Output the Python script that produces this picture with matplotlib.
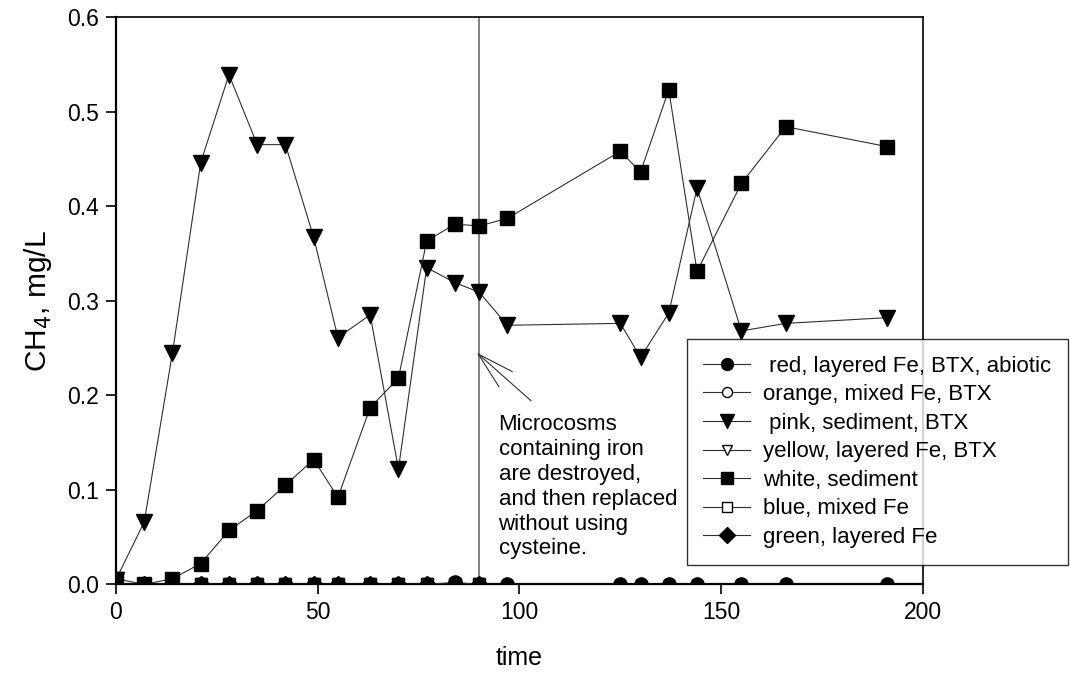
import matplotlib
matplotlib.use("Agg")
import matplotlib.pyplot as plt

plt.rcParams['font.family'] = ['Liberation Sans', 'DejaVu Sans']

# Sampling days
days_all = [0, 7, 14, 21, 28, 35, 42, 49, 55, 63, 70, 77, 84, 90, 97,
            125, 130, 137, 144, 155, 166, 191]
days_fe = [0, 7, 14, 21, 28, 35, 42, 49, 55, 63, 70, 77, 84, 90]

# CH4 concentrations, mg/L
red_layered_btx_abiotic = [0.0, 0.0, 0.0, 0.0, 0.0, 0.0, 0.0, 0.0, 0.0, 0.0, 0.0,
                           0.0, 0.002, 0.0, 0.0, 0.0, 0.0, 0.0, 0.0, 0.0, 0.0, 0.0]
orange_mixed_btx = [0.0] * len(days_fe)
pink_sediment_btx = [0.005, 0.066, 0.245, 0.446, 0.539, 0.465, 0.465, 0.367, 0.261,
                     0.285, 0.122, 0.335, 0.319, 0.309, 0.274,
                     0.276, 0.240, 0.287, 0.419, 0.268, 0.276, 0.282]
yellow_layered_btx = [0.0] * len(days_fe)
white_sediment = [0.006, 0.0, 0.006, 0.022, 0.057, 0.078, 0.105, 0.132, 0.092,
                  0.187, 0.218, 0.363, 0.381, 0.379, 0.387,
                  0.458, 0.436, 0.523, 0.331, 0.424, 0.484, 0.463]
blue_mixed = [0.0] * len(days_fe)
green_layered = [0.0] * len(days_fe)

event_day = 90
note = ("Microcosms\ncontaining iron\nare destroyed,\nand then replaced\n"
        "without using\ncysteine.")

fig = plt.figure(figsize=(10.70, 6.74), dpi=100)
ax = fig.add_axes([0.1084, 0.133, 0.7542, 0.8418])

line_kw = dict(color='#303030', lw=0.8, mec='black')

ax.plot(days_all, red_layered_btx_abiotic, marker='o', ms=9.5, mfc='black',
        label=' red, layered Fe, BTX, abiotic', zorder=5, **line_kw)
ax.plot(days_fe, orange_mixed_btx, marker='o', ms=8, mfc='white',
        label='orange, mixed Fe, BTX', zorder=3, **line_kw)
ax.plot(days_all, pink_sediment_btx, marker='v', ms=11.5, mfc='black',
        label=' pink, sediment, BTX', zorder=4, **line_kw)
ax.plot(days_fe, yellow_layered_btx, marker='v', ms=8, mfc='white',
        label='yellow, layered Fe, BTX', zorder=3, **line_kw)
ax.plot(days_all, white_sediment, marker='s', ms=10, mfc='black',
        label='white, sediment', zorder=4, **line_kw)
ax.plot(days_fe, blue_mixed, marker='s', ms=8, mfc='white',
        label='blue, mixed Fe', zorder=3, **line_kw)
ax.plot(days_fe, green_layered, marker='D', ms=8.5, mfc='black',
        label='green, layered Fe', zorder=6, **line_kw)

ax.axvline(event_day, color='#7a7a7a', lw=1.3, zorder=2)

# Fan of pointer lines toward the event line
tip = (89.8, 0.2435)
for end in [(98.2, 0.225), (94.9, 0.209), (102.9, 0.194)]:
    ax.annotate('', xy=tip, xytext=end,
                arrowprops=dict(arrowstyle='-', color='#303030', lw=0.8,
                                shrinkA=0, shrinkB=0))

ax.text(94.8, 0.180, note, fontsize=16, va='top', ha='left',
        linespacing=1.24, zorder=7)

ax.set_xlim(0, 200)
ax.set_ylim(0, 0.6)
ax.set_xticks([0, 50, 100, 150, 200])
ax.set_yticks([0.0, 0.1, 0.2, 0.3, 0.4, 0.5, 0.6])
ax.set_yticklabels(['0.0', '0.1', '0.2', '0.3', '0.4', '0.5', '0.6'])
ax.tick_params(direction='out', length=7, width=1.2, labelsize=16.5, pad=5)

for side in ['left', 'bottom']:
    ax.spines[side].set_linewidth(1.6)
for side in ['top', 'right']:
    ax.spines[side].set_linewidth(1.2)

ax.set_xlabel('time', fontsize=18, labelpad=16)
ax.set_ylabel('CH$_4$, mg/L', fontsize=21.5, labelpad=10)

leg = ax.legend(loc='upper left', bbox_to_anchor=(0.7072, 0.4325),
                frameon=True, fancybox=False, fontsize=16, handlelength=2.1,
                handletextpad=0.6, labelspacing=0.34, borderpad=0.75,
                borderaxespad=0, markerscale=0.9)
leg.get_frame().set_edgecolor('black')
leg.get_frame().set_linewidth(1.0)
leg.set_zorder(10)

fig.savefig('out.png', dpi=100)
